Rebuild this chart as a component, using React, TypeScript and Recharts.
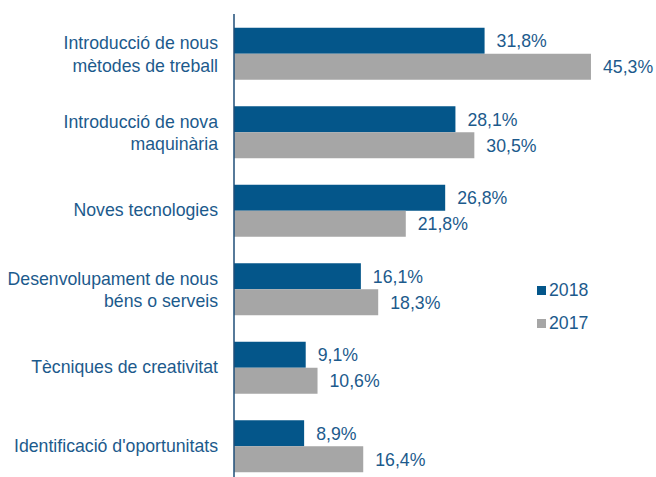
import { BarChart, Bar, XAxis, YAxis, LabelList, Legend } from 'recharts';

const categories = [
  'Introducció de nous\nmètodes de treball',
  'Introducció de nova\nmaquinària',
  'Noves tecnologies',
  'Desenvolupament de nous\nbéns o serveis',
  'Tècniques de creativitat',
  "Identificació d'oportunitats",
];
const values2018 = [31.8, 28.1, 26.8, 16.1, 9.1, 8.9];
const values2017 = [45.3, 30.5, 21.8, 18.3, 10.6, 16.4];

const BLUE = '#04568a';
const GRAY = '#a6a6a6';
const TEXT = '#1c5a8c';
const FONT = '"Liberation Sans", Arial, sans-serif';
const FS = 17.7;

const data = categories.map((name, i) => ({
  name,
  y2018: values2018[i],
  y2017: values2017[i],
}));

const fmt = (v: any) => `${Number(v).toFixed(1).replace('.', ',')}%`;

function CategoryTick(props: any) {
  const { x, y, payload } = props;
  const lines = String(payload.value).split('\n');
  const lh = 22.5;
  const start = y - ((lines.length - 1) * lh) / 2 + (lines.length > 1 ? 1 : 0);
  return (
    <text x={x} textAnchor="end" fill={TEXT} fontSize={FS} fontFamily={FONT}>
      {lines.map((l, i) => (
        <tspan key={i} x={x} y={start + i * lh} dominantBaseline="central">
          {l}
        </tspan>
      ))}
    </text>
  );
}

function LegendBox() {
  const items = [
    { label: '2018', color: BLUE },
    { label: '2017', color: GRAY },
  ];
  return (
    <div style={{ fontFamily: FONT, fontSize: FS, color: TEXT }}>
      {items.map((it) => (
        <div key={it.label} style={{ display: 'flex', alignItems: 'center', height: 33 }}>
          <span style={{ width: 9, height: 9, background: it.color, marginRight: 3, display: 'inline-block' }} />
          {it.label}
        </div>
      ))}
    </div>
  );
}

export default function App() {
  return (
    <div style={{ position: 'absolute', left: 0, top: 0, width: 656, height: 477, overflow: 'hidden', background: '#fff' }}>
      <BarChart
        width={656}
        height={490}
        data={data}
        layout="vertical"
        margin={{ top: 14, right: 28, bottom: 5, left: 0 }}
        barCategoryGap="17.5%"
        barGap={0}
      >
        <XAxis type="number" domain={[0, 50]} hide />
        <YAxis
          type="category"
          dataKey="name"
          width={234}
          tickLine={false}
          tickSize={0}
          tickMargin={16}
          axisLine={{ stroke: '#1f4e79', strokeWidth: 1.5 }}
          tick={<CategoryTick />}
          interval={0}
        />
        <Legend
          layout="horizontal"
          verticalAlign="middle"
          content={<LegendBox />}
          wrapperStyle={{ left: 537, top: 274, width: 80 }}
        />
        <Bar dataKey="y2018" name="2018" fill={BLUE} isAnimationActive={false}>
          <LabelList dataKey="y2018" position="right" offset={12} formatter={fmt} fill={TEXT} fontSize={FS} fontFamily={FONT} />
        </Bar>
        <Bar dataKey="y2017" name="2017" fill={GRAY} isAnimationActive={false}>
          <LabelList dataKey="y2017" position="right" offset={12} formatter={fmt} fill={TEXT} fontSize={FS} fontFamily={FONT} />
        </Bar>
      </BarChart>
    </div>
  );
}
